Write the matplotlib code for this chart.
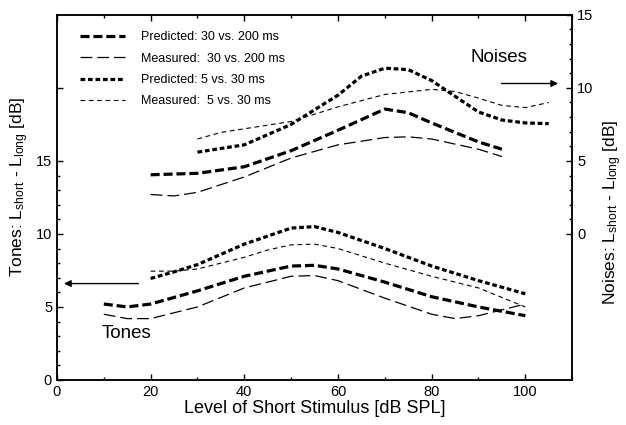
import matplotlib
matplotlib.use('Agg')
import matplotlib.pyplot as plt
from matplotlib.ticker import MultipleLocator, FixedLocator

plt.rcParams['font.family'] = ['Liberation Sans', 'DejaVu Sans']
plt.rcParams['mathtext.default'] = 'regular'
plt.rcParams['lines.scale_dashes'] = False

# ---- Tones (left axis) ----
tone_pred_long_x = [10, 15, 20, 30, 40, 50, 55, 60, 70, 80, 90, 100]
tone_pred_long_y = [5.2, 5.0, 5.2, 6.1, 7.1, 7.8, 7.85, 7.6, 6.7, 5.7, 5.0, 4.4]

tone_meas_long_x = [10, 15, 20, 30, 40, 50, 55, 60, 70, 80, 85, 90, 100]
tone_meas_long_y = [4.5, 4.2, 4.2, 5.0, 6.3, 7.1, 7.15, 6.8, 5.6, 4.5, 4.2, 4.4, 5.2]

tone_pred_short_x = [20, 25, 30, 40, 50, 55, 60, 70, 80, 90, 100]
tone_pred_short_y = [6.95, 7.4, 7.9, 9.3, 10.4, 10.5, 10.1, 9.0, 7.8, 6.8, 5.9]

tone_meas_short_x = [20, 25, 30, 40, 45, 50, 55, 60, 70, 80, 90, 100]
tone_meas_short_y = [7.45, 7.45, 7.6, 8.4, 8.9, 9.25, 9.3, 9.0, 8.0, 7.1, 6.3, 5.0]

# ---- Noises (right axis) ----
noise_pred_long_x = [20, 30, 40, 50, 60, 70, 75, 80, 90, 95]
noise_pred_long_y = [4.05, 4.15, 4.6, 5.7, 7.1, 8.55, 8.3, 7.6, 6.3, 5.8]

noise_meas_long_x = [20, 25, 30, 40, 50, 60, 70, 75, 80, 90, 95]
noise_meas_long_y = [2.7, 2.6, 2.85, 3.9, 5.2, 6.1, 6.6, 6.65, 6.5, 5.8, 5.3]

noise_pred_short_x = [30, 40, 50, 60, 65, 70, 75, 80, 90, 95, 100, 105]
noise_pred_short_y = [5.6, 6.1, 7.5, 9.5, 10.8, 11.35, 11.25, 10.5, 8.35, 7.8, 7.6, 7.55]

noise_meas_short_x = [30, 35, 40, 50, 60, 70, 80, 85, 90, 95, 100, 105]
noise_meas_short_y = [6.5, 6.95, 7.2, 7.7, 8.7, 9.55, 9.9, 9.75, 9.3, 8.8, 8.65, 9.0]

legend_labels = ['Predicted: 30 vs. 200 ms', 'Measured:  30 vs. 200 ms',
                 'Predicted: 5 vs. 30 ms', 'Measured:  5 vs. 30 ms']

# line styles: (linewidth, dash pattern in points)
styles = [
    dict(color='black', lw=2.3, dashes=(6.5, 2.8)),
    dict(color='black', lw=0.9, dashes=(8.5, 3.6)),
    dict(color='black', lw=2.3, dashes=(3.4, 2.0)),
    dict(color='black', lw=0.8, dashes=(3.4, 2.6)),
]


def main():
    fig = plt.figure(figsize=(6.26, 4.25), dpi=100)
    ax1 = fig.add_axes([0.091, 0.106, 0.823, 0.859])
    ax2 = ax1.twinx()

    # tones on the left axis
    h1, = ax1.plot(tone_pred_long_x, tone_pred_long_y, **styles[0])
    h2, = ax1.plot(tone_meas_long_x, tone_meas_long_y, **styles[1])
    h3, = ax1.plot(tone_pred_short_x, tone_pred_short_y, **styles[2])
    h4, = ax1.plot(tone_meas_short_x, tone_meas_short_y, **styles[3])

    # noises on the right axis
    ax2.plot(noise_pred_long_x, noise_pred_long_y, **styles[0])
    ax2.plot(noise_meas_long_x, noise_meas_long_y, **styles[1])
    ax2.plot(noise_pred_short_x, noise_pred_short_y, **styles[2])
    ax2.plot(noise_meas_short_x, noise_meas_short_y, **styles[3])

    ax1.set_xlim(0, 110)
    ax1.set_ylim(0, 25)
    ax2.set_ylim(-10, 15)

    ax1.xaxis.set_major_locator(FixedLocator([0, 20, 40, 60, 80, 100]))
    ax1.xaxis.set_minor_locator(MultipleLocator(10))
    ax1.yaxis.set_major_locator(FixedLocator([0, 5, 10, 15, 20]))
    ax1.set_yticklabels(['0', '5', '10', '15', ''])
    ax1.yaxis.set_minor_locator(FixedLocator(list(range(0, 16))))
    ax2.yaxis.set_major_locator(FixedLocator([0, 5, 10, 15]))
    ax2.yaxis.set_minor_locator(FixedLocator(list(range(0, 16))))

    ax1.tick_params(which='both', direction='in', top=True, labelsize=10.5, width=1)
    ax1.tick_params(which='major', length=4)
    ax1.tick_params(which='minor', length=2.5)
    ax2.tick_params(which='both', direction='in', labelsize=10.5, width=1)
    ax2.tick_params(which='major', length=4)
    ax2.tick_params(which='minor', length=2.5)

    for sp in ax1.spines.values():
        sp.set_linewidth(1.1)
    for sp in ax2.spines.values():
        sp.set_linewidth(1.1)

    ax1.set_xlabel('Level of Short Stimulus [dB SPL]', fontsize=13, labelpad=1)
    ax1.set_ylabel('Tones: L$_{short}$ - L$_{long}$ [dB]', fontsize=12.5)
    ax2.set_ylabel('Noises: L$_{short}$ - L$_{long}$ [dB]', fontsize=12.5)
    # the label position sets the edge of the text that faces the axes
    ax1.yaxis.set_label_coords(-0.05, 0.53)
    ax2.yaxis.set_label_coords(1.056, 0.46)

    # annotations
    ax1.text(14.9, 3.2, 'Tones', fontsize=13.5, ha='center', va='center')
    ax1.annotate('', xy=(1.5, 6.6), xytext=(17.4, 6.6),
                 arrowprops=dict(arrowstyle='-|>', color='black', lw=1.0,
                                 mutation_scale=10, shrinkA=0, shrinkB=0))
    ax1.text(94.3, 22.1, 'Noises', fontsize=13.5, ha='center', va='center')
    ax1.annotate('', xy=(107, 20.3), xytext=(94.9, 20.3),
                 arrowprops=dict(arrowstyle='-|>', color='black', lw=1.0,
                                 mutation_scale=10, shrinkA=0, shrinkB=0))

    ax1.legend([h1, h2, h3, h4], legend_labels, loc='upper left',
               bbox_to_anchor=(0.045, 0.955), frameon=False, fontsize=9,
               handlelength=3.6, handletextpad=1.3, labelspacing=0.75,
               borderpad=0, borderaxespad=0)

    fig.savefig('out.png', dpi=100)
    plt.close(fig)


if __name__ == '__main__':
    main()
